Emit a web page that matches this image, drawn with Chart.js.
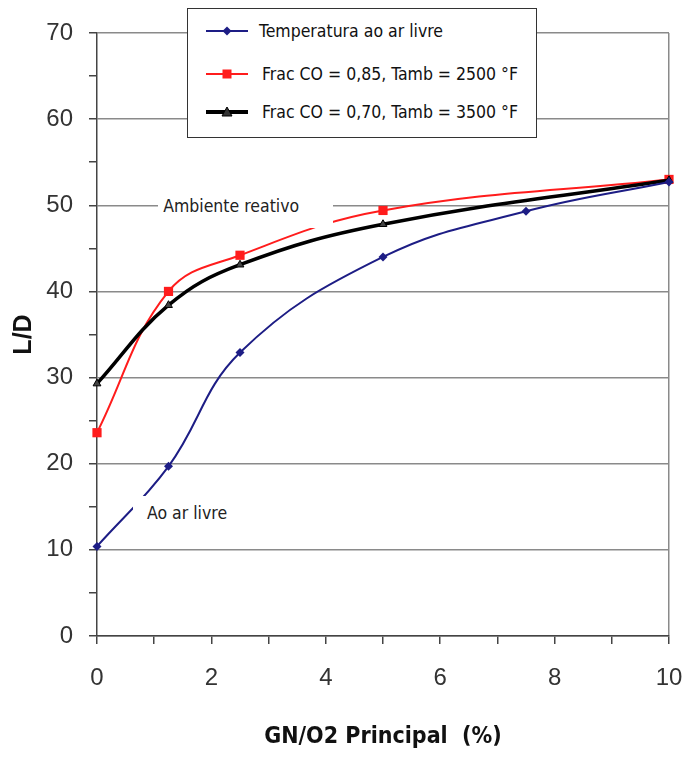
<!DOCTYPE html>
<html>
<head>
<meta charset="utf-8">
<script src="https://cdn.jsdelivr.net/npm/chart.js@4.4.1/dist/chart.umd.min.js"></script>
<style>
  html, body { margin: 0; padding: 0; background: #fff; }
  #wrap { position: relative; width: 687px; height: 760px; overflow: hidden; background: #fff; }
  #chart { position: absolute; left: 0; top: 0; }
  .cond { font-family: 'DejaVu Sans Condensed', 'DejaVu Sans', sans-serif; font-stretch: condensed; }
  .note { position: absolute; background: #fff; font-size: 17.5px; color: #222; display: flex; align-items: center; box-sizing: border-box; white-space: nowrap; }
  #legend { position: absolute; left: 187px; top: 8px; width: 350px; height: 130px; border: 1.5px solid #333; background: #fff; box-sizing: border-box; font-size: 17.5px; color: #111; }
  .item { position: absolute; left: 0; height: 24px; display: flex; align-items: center; white-space: nowrap; }
  .item svg { display: block; }
</style>
</head>
<body>
<div id="wrap">
  <canvas id="chart" width="687" height="760"></canvas>
  <div id="legend" class="cond"></div>
</div>
<script>
// ---- data ----
const blueX  = [0, 1.25, 2.5, 5, 7.5, 10];
const blueY  = [10.4, 19.7, 32.9, 44.0, 49.3, 52.7];
const redX   = [0, 1.25, 2.5, 5, 10];
const redY   = [23.6, 40.0, 44.2, 49.4, 53.0];
const blackX = [0, 1.25, 2.5, 5, 10];
const blackY = [29.3, 38.4, 43.1, 47.8, 52.9];
const seriesNames = ['Temperatura ao ar livre', 'Frac CO = 0,85, Tamb = 2500 °F', 'Frac CO = 0,70, Tamb = 3500 °F'];
const xTitle = 'GN/O2 Principal  (%)';
const yTitle = 'L/D';
const noteTexts = ['Ambiente reativo', 'Ao ar livre'];

// ---- styling / placement (kept apart from the data) ----
const colors = ['#1d1d85', '#ff1c1c', '#000000'];
const noteBoxes = [
  { x0: 1.07, x1: 4.12, y0: 47.4, y1: 52.5, pad: 5 },
  { x0: 0.63, x1: 2.50, y0: 12.3, y1: 16.25, pad: 14 }
];

const pts = (xs, ys) => xs.map((x, i) => ({ x: x, y: ys[i] }));

// notes as real HTML text
const wrap = document.getElementById('wrap');
const noteEls = noteTexts.map((t, i) => {
  const d = document.createElement('div');
  d.className = 'note cond';
  d.textContent = t;
  wrap.appendChild(d);
  return d;
});

// legend as real HTML text
const legendEl = document.getElementById('legend');
const legendCenters = [22, 65, 103];
const markerSvg = [
  '<polygon points="21,2.5 25.5,7 21,11.5 16.5,7" fill="' + colors[0] + '"/>',
  '<rect x="16.5" y="2.5" width="9" height="9" fill="' + colors[1] + '"/>',
  '<polygon points="21,2 26,11 16,11" fill="#333" stroke="#000" stroke-width="1"/>'
];
const lineW = [2, 2, 4];
seriesNames.forEach((name, i) => {
  const it = document.createElement('div');
  it.className = 'item';
  it.style.top = (legendCenters[i] - 12) + 'px';
  it.innerHTML = '<svg width="42" height="14" style="margin-left:18px;margin-right:' + (i === 0 ? 11 : 14) + 'px">' +
    '<line x1="0" y1="7" x2="42" y2="7" stroke="' + colors[i] + '" stroke-width="' + lineW[i] + '"/>' +
    markerSvg[i] + '</svg><span>' + name + '</span>';
  legendEl.appendChild(it);
});

const overlay = {
  id: 'overlay',
  afterDraw(chart) {
    const sx = chart.scales.x, sy = chart.scales.y;
    noteBoxes.forEach((b, i) => {
      const l = sx.getPixelForValue(b.x0), r = sx.getPixelForValue(b.x1);
      const t = sy.getPixelForValue(b.y1), btm = sy.getPixelForValue(b.y0);
      const el = noteEls[i];
      el.style.left = l + 'px';
      el.style.top = t + 'px';
      el.style.width = (r - l) + 'px';
      el.style.height = (btm - t) + 'px';
      el.style.paddingLeft = b.pad + 'px';
    });
  }
};

const tickFont = { family: "'Liberation Sans', Arial, sans-serif", size: 24 };

new Chart(document.getElementById('chart'), {
  type: 'line',
  data: {
    datasets: [
      { label: seriesNames[0], data: pts(blueX, blueY), borderColor: colors[0], backgroundColor: colors[0],
        borderWidth: 2, pointStyle: 'rectRot', pointRadius: 4.5, pointBorderWidth: 0, tension: 0.4, clip: false, order: 0 },
      { label: seriesNames[1], data: pts(redX, redY), borderColor: colors[1], backgroundColor: colors[1],
        borderWidth: 2, pointStyle: 'rect', pointRadius: 6.5, pointBorderWidth: 0, tension: 0.4, clip: false, order: 2 },
      { label: seriesNames[2], data: pts(blackX, blackY), borderColor: colors[2], backgroundColor: '#444',
        borderWidth: 3.5, pointStyle: 'triangle', pointRadius: 4.5, pointBorderWidth: 1, pointBorderColor: '#000', tension: 0.4, clip: false, order: 1 }
    ]
  },
  options: {
    responsive: false,
    animation: false,
    events: [],
    layout: { padding: { left: 0, right: 18, top: 33, bottom: 0 } },
    plugins: { legend: { display: false }, tooltip: { enabled: false } },
    scales: {
      x: {
        type: 'linear', min: 0, max: 10,
        afterFit: s => { s.height = 124; s.paddingLeft = 0; s.paddingRight = 0; },
        ticks: { stepSize: 1, autoSkip: false, maxRotation: 0, padding: 20, color: '#333', font: tickFont,
          callback: v => (v % 2 === 0 ? String(v) : '') },
        grid: { drawOnChartArea: true, color: c => (c.tick && c.tick.value === 10 ? '#8a8a8a' : 'rgba(0,0,0,0)'),
          lineWidth: 1.5, tickColor: '#444', tickLength: 8 },
        border: { color: '#444', width: 1.5 },
        title: { display: true, text: xTitle, color: '#111',
          font: { family: "'DejaVu Sans Condensed', 'DejaVu Sans', sans-serif", weight: 'bold', size: 23 },
          padding: { top: 0, bottom: 9 } }
      },
      y: {
        min: 0, max: 70,
        afterFit: s => { s.width = 97; s.paddingTop = 0; s.paddingBottom = 0; },
        ticks: { stepSize: 5, autoSkip: false, padding: 16, color: '#333', font: tickFont,
          callback: v => (v % 10 === 0 ? String(v) : '') },
        grid: { color: c => (c.tick && c.tick.value % 10 === 0 ? '#8a8a8a' : 'rgba(0,0,0,0)'),
          lineWidth: 1.5, tickColor: '#444', tickLength: 8 },
        border: { color: '#444', width: 1.5 },
        title: { display: true, text: yTitle, color: '#111',
          font: { family: "'Liberation Sans', Arial, sans-serif", weight: 'bold', size: 25 },
          padding: { top: 9, bottom: 0 } }
      }
    }
  },
  plugins: [overlay]
});
</script>
</body>
</html>
